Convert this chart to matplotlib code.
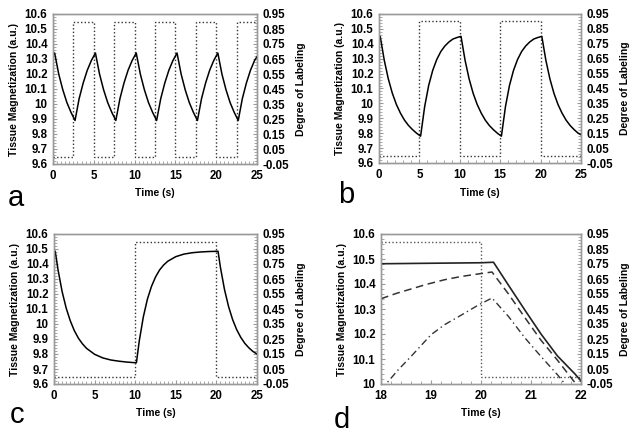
import matplotlib
matplotlib.use("Agg")
import matplotlib.pyplot as plt
from matplotlib.ticker import MultipleLocator, FormatStrFormatter, FuncFormatter

plt.rcParams['font.family'] = ['Liberation Sans', 'DejaVu Sans']
plt.rcParams['font.weight'] = 'bold'
plt.rcParams['axes.labelweight'] = 'bold'

# ---- panel a: 5 s labeling period
t_a = [0, 0.2, 0.7, 1.2, 1.7, 2.2, 2.7, 3.2, 3.7, 4.2, 4.7,
       5.2, 5.7, 6.2, 6.7, 7.2, 7.7, 8.2, 8.7, 9.2, 9.7,
       10.2, 10.7, 11.2, 11.7, 12.2, 12.7, 13.2, 13.7, 14.2, 14.7,
       15.2, 15.7, 16.2, 16.7, 17.2, 17.7, 18.2, 18.7, 19.2, 19.7,
       20.2, 20.7, 21.2, 21.7, 22.2, 22.7, 23.2, 23.7, 24.2, 24.7, 25]
m_a = [10.325, 10.34, 10.20, 10.095, 10.01, 9.945, 9.89, 10.035, 10.14, 10.225, 10.29,
       10.34, 10.20, 10.095, 10.01, 9.945, 9.89, 10.035, 10.14, 10.225, 10.29,
       10.34, 10.20, 10.095, 10.01, 9.945, 9.89, 10.035, 10.14, 10.225, 10.29,
       10.34, 10.20, 10.095, 10.01, 9.945, 9.89, 10.035, 10.14, 10.225, 10.29,
       10.34, 10.20, 10.095, 10.01, 9.945, 9.89, 10.035, 10.14, 10.225, 10.29, 10.315]
lab_edges_a = [0, 2.5, 5, 7.5, 10, 12.5, 15, 17.5, 20, 22.5, 25]
lab_a = [0, 0.9, 0, 0.9, 0, 0.9, 0, 0.9, 0, 0.9]

# ---- panel b: 10 s labeling period
t_b = [0, 0.15, 0.65, 1.15, 1.65, 2.15, 2.65, 3.15, 3.65, 4.15, 4.65,
       5.15, 5.65, 6.15, 6.65, 7.15, 7.65, 8.15, 8.65, 9.15, 9.65,
       10.15, 10.65, 11.15, 11.65, 12.15, 12.65, 13.15, 13.65, 14.15, 14.65,
       15.15, 15.65, 16.15, 16.65, 17.15, 17.65, 18.15, 18.65, 19.15, 19.65,
       20.15, 20.65, 21.15, 21.65, 22.15, 22.65, 23.15, 23.65, 24.15, 24.65, 25]
m_b = [10.445, 10.45, 10.29, 10.165, 10.068, 9.993, 9.935, 9.888, 9.852, 9.824, 9.80,
       9.78, 9.978, 10.121, 10.222, 10.295, 10.348, 10.385, 10.412, 10.432, 10.442,
       10.45, 10.29, 10.165, 10.068, 9.993, 9.935, 9.888, 9.852, 9.824, 9.80,
       9.78, 9.978, 10.121, 10.222, 10.295, 10.348, 10.385, 10.412, 10.432, 10.442,
       10.45, 10.29, 10.165, 10.068, 9.993, 9.935, 9.888, 9.852, 9.824, 9.80, 9.79]
lab_edges_b = [0, 5, 10, 15, 20, 25]
lab_b = [0, 0.9, 0, 0.9, 0]

# ---- panel c: 10 s on
t_c = [0, 0.15, 0.5, 1, 1.5, 2, 2.5, 3, 3.5, 4, 5, 6, 7, 8, 9, 10,
       10.15, 10.5, 11, 11.5, 12, 12.5, 13, 13.5, 14, 15, 16, 17, 18, 19,
       20.2, 20.5, 21, 21.5, 22, 22.5, 23, 23.5, 24, 24.5, 25]
m_c = [10.485, 10.485, 10.36, 10.216, 10.106, 10.022, 9.956, 9.906, 9.868, 9.838,
       9.798, 9.774, 9.76, 9.752, 9.746, 9.742,
       9.742, 9.887, 10.047, 10.165, 10.25, 10.313, 10.36, 10.393, 10.418,
       10.449, 10.466, 10.475, 10.48, 10.483,
       10.485, 10.376, 10.229, 10.116, 10.029, 9.962, 9.911, 9.871, 9.841, 9.817, 9.80]
lab_edges_c = [0, 10, 20, 25]
lab_c = [0, 0.9, 0]

# ---- panel d: close-up around the end of labeling
t_d1 = [18, 18.5, 19, 19.5, 20, 20.25, 20.55, 20.88, 21.2, 21.53, 21.88, 22]
m_d1 = [10.481, 10.482, 10.483, 10.484, 10.485, 10.487, 10.395, 10.295, 10.2, 10.112, 10.04, 10.012]
t_d2 = [18, 18.3, 18.6, 18.9, 19.27, 19.6, 19.94, 20.22, 20.55, 20.88, 21.2, 21.53, 21.9, 22]
m_d2 = [10.341, 10.362, 10.38, 10.398, 10.417, 10.43, 10.44, 10.448, 10.36, 10.265, 10.175, 10.095, 10.0, 9.975]
t_d3 = [18, 18.1, 18.35, 18.6, 19.0, 19.27, 19.6, 19.94, 20.22, 20.55, 20.88, 21.2, 21.53, 21.68, 22]
m_d3 = [9.975, 10.0, 10.058, 10.11, 10.197, 10.237, 10.275, 10.315, 10.344, 10.27, 10.184, 10.11, 10.037, 10.0, 9.93]
lab_edges_d = [18, 20, 22]
lab_d = [0.9, 0]

W, H = 635, 438
fig = plt.figure(figsize=(W / 100, H / 100), dpi=100)
fig.patch.set_facecolor('white')

GREY = '#9a9a9a'


def make_panel(box, xlim, xmajor, xminor, ylim, letter, letter_xy):
    x0, x1, y0, y1 = box
    ax = fig.add_axes([x0 / W, 1 - y1 / H, (x1 - x0) / W, (y1 - y0) / H])
    ax2 = ax.twinx()
    ax.set_xlim(*xlim)
    ax.set_ylim(*ylim)
    ax2.set_ylim(-0.05, 0.95)
    ax.xaxis.set_major_locator(MultipleLocator(xmajor))
    ax.xaxis.set_minor_locator(MultipleLocator(xminor))
    ax.yaxis.set_major_locator(MultipleLocator(0.1))
    ax.yaxis.set_minor_locator(MultipleLocator(0.02))
    ax.yaxis.set_major_formatter(FuncFormatter(lambda v, p: '%g' % round(v, 2)))
    ax.xaxis.set_major_formatter(FuncFormatter(lambda v, p: '%g' % round(v, 2)))
    ax2.yaxis.set_major_locator(MultipleLocator(0.1, offset=0.05))
    ax2.yaxis.set_minor_locator(MultipleLocator(0.02, offset=0.01))
    ax2.yaxis.set_major_formatter(FormatStrFormatter('%.2f'))
    for a in (ax, ax2):
        for s in a.spines.values():
            s.set_color(GREY)
            s.set_linewidth(1.0)
        a.tick_params(which='both', direction='in', color=GREY, labelsize=8.3, pad=4)
        a.tick_params(which='major', length=3, width=0.8)
        a.tick_params(which='minor', length=2, width=0.6)
    ax.tick_params(axis='y', which='both', right=False)
    ax.tick_params(axis='x', which='both', top=False)
    ax.set_xlabel('Time (s)', fontsize=7.5, labelpad=5)
    ax.set_ylabel('Tissue Magnetization (a.u.)', fontsize=7.5, labelpad=4)
    ax2.set_ylabel('Degree of Labeling', fontsize=7.5, labelpad=5)
    fig.text(letter_xy[0] / W, 1 - letter_xy[1] / H, letter, fontsize=21,
             fontweight='normal', ha='left', va='baseline')
    ax.set_zorder(ax2.get_zorder() + 1)
    ax.patch.set_visible(False)
    return ax, ax2


lab_style = dict(color='#333333', lw=1.0, linestyle=(0, (1, 1.6)), baseline=None)

ax, ax2 = make_panel((53, 257, 14, 164), (0, 25), 5, 0.5, (9.6, 10.6), 'a', (8, 206))
ax.plot(t_a, m_a, color='black', lw=1.1)
ax2.stairs(lab_a, lab_edges_a, **lab_style)

ax, ax2 = make_panel((379, 581, 14, 163), (0, 25), 5, 1, (9.6, 10.6), 'b', (338, 203))
ax.plot(t_b, m_b, color='black', lw=1.1)
ax2.stairs(lab_b, lab_edges_b, **lab_style)

ax, ax2 = make_panel((54, 257, 234, 384), (0, 25), 5, 0.5, (9.6, 10.6), 'c', (10, 423))
ax.plot(t_c, m_c, color='black', lw=1.1)
ax2.stairs(lab_c, lab_edges_c, **lab_style)

ax, ax2 = make_panel((381, 581, 234, 384), (18, 22), 1, 0.2, (10.0, 10.6), 'd', (334, 428))
ax.plot(t_d1, m_d1, color='#222222', lw=1.2)
ax.plot(t_d2, m_d2, color='#333333', lw=1.1, linestyle=(0, (5, 3)))
ax.plot(t_d3, m_d3, color='#333333', lw=1.0, linestyle=(0, (5, 2.5, 1, 2.5)))
ax2.stairs(lab_d, lab_edges_d, color='#555555', lw=1.0, linestyle=(0, (1, 1.6)), baseline=None)

fig.savefig('out.png', dpi=100, facecolor='white')
